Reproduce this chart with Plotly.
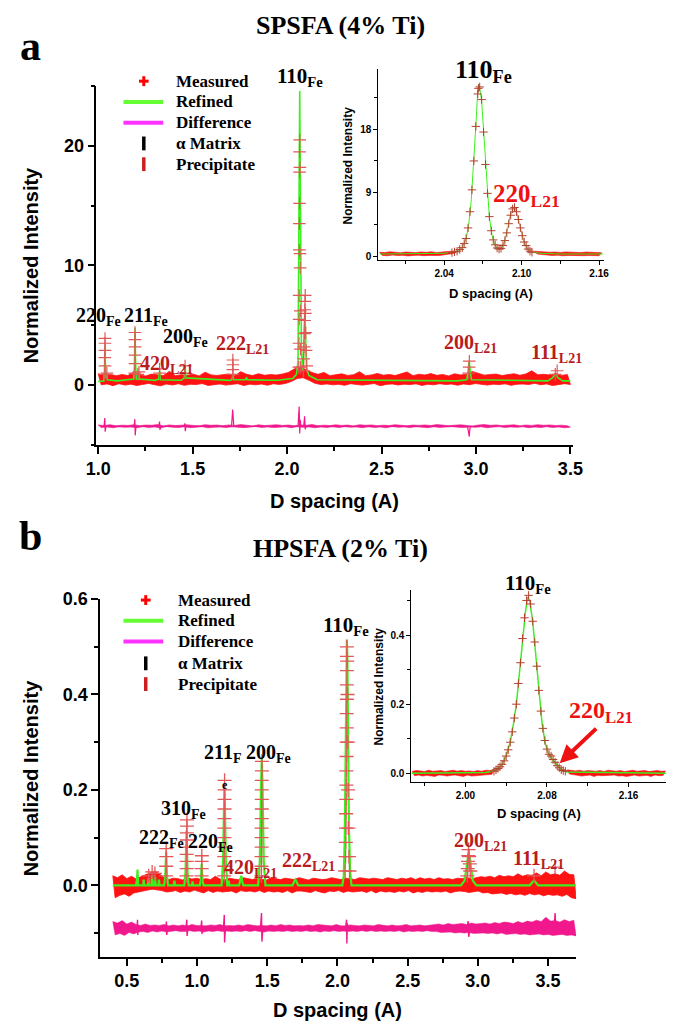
import numpy as np
import plotly.graph_objects as go

W, H = 685, 1034
def fx(p): return p / W
def fy(p): return 1 - p / H

# ---------------- DATA: panel a (SPSFA 4% Ti) ----------------
# measured noise band: alternating upper / lower excursions along the pattern
a_meas_y = [0.95, 0.02, 0.82, 0.10, 0.90, -0.05, 0.78, 0.12, 0.88, 0.00,
            0.80, 0.08, 1.10, -0.04, 0.84, 0.06, 0.76, 0.14, 0.92, 0.03,
            0.86, -0.06, 0.80, 0.09, 1.15, 0.01, 0.79, 0.11, 0.87, -0.02,
            0.83, 0.07, 0.91, 0.04, 0.77, 0.13, 1.08, -0.03, 0.85, 0.05,
            0.81, 0.10, 0.89, 0.00, 0.93, 0.06, 0.78, 0.12, 1.12, -0.04,
            0.90, 0.08, 0.80, 0.03, 0.95, 0.09, 0.82, -0.01, 0.88, 0.11,
            0.84, 0.05, 0.92, 0.14, 1.05, 0.30, 1.35, 0.55, 1.50, 0.62,
            1.30, 0.40, 1.05, 0.15, 0.90, 0.04, 1.06, 0.10, 0.79, 0.02,
            0.88, 0.07, 0.94, -0.02, 0.81, 0.12, 0.87, 0.05, 1.12, 0.00,
            0.78, 0.09, 0.85, 0.13, 0.97, -0.05, 0.83, 0.06, 0.89, 0.10,
            0.80, 0.01, 0.93, 0.08, 1.10, 0.04, 0.79, 0.11, 0.91, -0.03,
            0.84, 0.07, 0.96, 0.02, 0.82, 0.12, 0.88, 0.05, 0.77, 0.09,
            0.94, -0.01, 0.85, 0.10, 0.90, 0.03, 1.14, 0.13, 0.98, 0.06,
            0.83, 0.00, 0.89, 0.08, 0.92, 0.04, 0.80, 0.11, 0.87, -0.02,
            0.95, 0.07, 0.82, 0.09, 0.93, 0.05, 1.20, 0.15, 0.86, 0.03,
            0.90, 0.10, 0.84, -0.04, 0.96, 0.06, 0.81, 0.12, 0.88, 0.05]

a_cross_x = [1.035, 1.036, 1.035, 1.036, 1.036, 1.036, 1.046,
             1.194, 1.195, 1.195, 1.195, 1.195, 1.195, 1.216, 1.210,
             1.325, 1.325, 1.460, 1.460,
             1.713, 1.713, 1.713, 1.713,
             2.062, 2.063, 2.064, 2.064, 2.065, 2.065, 2.066, 2.066, 2.066, 2.067,
             2.068, 2.068, 2.069, 2.070, 2.071, 2.072,
             2.086, 2.088, 2.090, 2.092, 2.093, 2.094, 2.095, 2.096, 2.097, 2.099, 2.101, 2.104,
             2.962, 2.964, 2.965, 3.420, 3.430]
a_cross_y = [0.9, 1.6, 2.3, 2.9, 3.5, 3.9, 1.0,
             1.0, 1.8, 2.5, 3.2, 3.8, 4.4, 1.1, 0.9,
             1.0, 1.35, 1.0, 1.6,
             0.9, 1.3, 1.7, 2.1,
             1.5, 3.5, 5.5, 7.5, 11.3, 13.5, 15.2, 17.8, 19.5, 20.5,
             18.2, 11.0, 9.8, 6.2, 3.0, 1.5,
             1.2, 2.2, 3.2, 4.3, 5.4, 6.3, 7.0, 7.5, 6.0, 4.4, 2.9, 1.6,
             1.0, 1.5, 2.0, 0.9, 1.2]

a_ref_x = [1.000, 1.030, 1.033, 1.036, 1.039, 1.042, 1.045, 1.048, 1.100,
           1.188, 1.192, 1.195, 1.198, 1.202, 1.212, 1.215, 1.218, 1.300,
           1.321, 1.325, 1.329, 1.440, 1.456, 1.460, 1.464, 1.700, 1.709,
           1.713, 1.717, 1.780, 1.783, 1.786, 1.789, 1.950, 2.030, 2.050,
           2.058, 2.062, 2.065, 2.067, 2.069, 2.072, 2.076, 2.082, 2.086,
           2.090, 2.094, 2.098, 2.103, 2.115, 2.160, 2.900, 2.952, 2.958,
           2.964, 2.970, 2.976, 3.380, 3.405, 3.420, 3.435, 3.460, 3.500]
a_ref_y = [0.30, 0.35, 1.20, 3.30, 1.20, 0.60, 1.00, 0.45, 0.35,
           0.50, 1.80, 4.80, 1.80, 0.50, 0.50, 1.00, 0.50, 0.40,
           0.50, 1.20, 0.45, 0.40, 0.60, 1.70, 0.60, 0.40, 0.50,
           0.90, 0.45, 0.45, 0.55, 0.60, 0.45, 0.40, 0.55, 0.90,
           2.00, 10.0, 20.0, 24.6, 20.0, 10.0, 3.00, 1.20, 1.60,
           4.50, 6.20, 4.00, 1.50, 0.80, 0.45, 0.35, 0.45, 1.20,
           2.00, 1.20, 0.45, 0.35, 0.60, 0.90, 0.60, 0.35, 0.35]

a_diff_y = [-3.33, -3.55, -3.38, -3.50, -3.31, -3.57, -3.40, -3.49, -3.35, -3.53,
            -3.37, -3.51, -3.32, -3.56, -3.39, -3.48, -3.34, -3.54, -3.36, -3.50,
            -3.30, -3.58, -3.41, -3.47, -3.33, -3.52, -3.38, -3.55, -3.35, -3.49,
            -3.32, -3.56, -3.37, -3.51, -3.40, -3.48, -3.31, -3.57, -3.36, -3.53,
            -3.34, -3.50, -3.39, -3.55, -3.33, -3.49, -3.37, -3.52, -3.30, -3.56,
            -3.36, -3.51, -3.41, -3.47, -3.32, -3.54, -3.38, -3.50, -3.35, -3.55,
            -3.31, -3.52, -3.37, -3.49, -3.34, -3.56, -3.40, -3.48, -3.33, -3.53,
            -3.36, -3.50, -3.30, -3.57, -3.39, -3.51, -3.35, -3.54, -3.38, -3.49,
            -3.32, -3.55, -3.37, -3.48, -3.34, -3.52, -3.41, -3.50, -3.31, -3.56,
            -3.36, -3.49, -3.33, -3.54, -3.39, -3.51, -3.35, -3.57, -3.38, -3.47,
            -3.31, -3.53, -3.36, -3.50, -3.40, -3.55, -3.34, -3.48, -3.37, -3.52,
            -3.33, -3.56, -3.38, -3.49, -3.30, -3.54, -3.36, -3.51, -3.39, -3.47,
            -3.35, -3.52, -3.32, -3.55, -3.37, -3.50, -3.41, -3.53, -3.34, -3.49,
            -3.30, -3.57, -3.36, -3.51, -3.33, -3.48, -3.38, -3.54, -3.35, -3.50,
            -3.32, -3.53, -3.39, -3.49, -3.34, -3.56, -3.37, -3.51, -3.31, -3.55,
            -3.36, -3.48, -3.33, -3.54, -3.38, -3.50, -3.35, -3.57, -3.40, -3.52]
a_spike_x = [1.031, 1.035, 1.037, 1.041, 1.190, 1.194, 1.196, 1.200,
             1.321, 1.325, 1.327, 1.331, 1.455, 1.459, 1.461, 1.465,
             1.706, 1.712, 1.718, 2.058, 2.064, 2.067, 2.070, 2.073,
             2.088, 2.093, 2.096, 2.100, 2.955, 2.962, 2.965, 2.968, 2.974]
a_spike_y = [-3.45, -2.75, -3.90, -3.45, -3.45, -2.85, -4.20, -3.45,
             -3.45, -3.05, -3.75, -3.45, -3.45, -3.20, -3.85, -3.45,
             -3.45, -2.05, -3.45, -3.45, -1.80, -4.05, -2.90, -3.45,
             -3.45, -2.60, -3.70, -3.45, -3.45, -3.90, -4.30, -3.60, -3.45]

# inset a
ia_ref_x = [1.990, 2.040, 2.050, 2.054, 2.057, 2.059, 2.061, 2.063, 2.065, 2.066,
            2.067, 2.069, 2.071, 2.073, 2.075, 2.077, 2.079, 2.081, 2.083, 2.085,
            2.087, 2.089, 2.091, 2.093, 2.094, 2.096, 2.098, 2.100, 2.102, 2.105,
            2.108, 2.115, 2.130, 2.163]
ia_ref_y = [0.3, 0.4, 0.7, 1.2, 2.5, 4.5, 8.0, 13.5, 20.0, 23.5,
            24.4, 22.0, 16.0, 10.0, 5.5, 3.0, 1.7, 1.1, 1.0, 1.3,
            2.2, 3.8, 5.6, 6.7, 6.9, 6.3, 4.8, 3.2, 1.9, 0.9,
            0.55, 0.4, 0.3, 0.3]
ia_cross_x = [2.046, 2.048, 2.050, 2.052, 2.054, 2.0555, 2.057, 2.0585, 2.060, 2.0615,
              2.063, 2.0645, 2.066, 2.0665, 2.0675, 2.069, 2.0705, 2.072, 2.0735, 2.075,
              2.0765, 2.078, 2.0795, 2.081, 2.0825, 2.084, 2.0855, 2.087, 2.0885, 2.090,
              2.0915, 2.093, 2.0945, 2.096, 2.0975, 2.099, 2.1005, 2.102, 2.1035, 2.105,
              2.1065, 2.108]
ia_cross_y = [0.5, 0.6, 0.7, 0.95, 1.2, 1.8, 2.5, 4.0, 6.3, 9.4,
              13.5, 18.4, 23.0, 23.8, 24.0, 22.2, 17.6, 13.0, 8.9, 5.6,
              3.6, 2.3, 1.6, 1.15, 1.0, 1.1, 1.5, 2.2, 3.3, 4.6,
              5.8, 6.7, 6.9, 6.3, 5.2, 4.0, 2.9, 2.0, 1.5, 1.0,
              0.7, 0.55]
ia_base_left_y = [0.55, 0.10, 0.50, 0.05, 0.62, 0.15, 0.55, 0.08, 0.48, 0.12,
                  0.58, 0.02, 0.52, 0.10, 0.50, 0.14, 0.60, 0.06, 0.54, 0.10,
                  0.62, 0.12, 0.50, 0.08, 0.58, 0.18, 0.62, 0.25, 0.70, 0.40]
ia_base_right_y = [0.70, 0.30, 0.62, 0.20, 0.58, 0.12, 0.55, 0.08, 0.58, 0.14,
                   0.52, 0.05, 0.60, 0.10, 0.54, 0.04, 0.56, 0.10, 0.50, 0.06,
                   0.58, 0.08, 0.52, 0.02, 0.54, 0.06, 0.48]

# ---------------- DATA: panel b (HPSFA 2% Ti) ----------------
b_meas_y = [0.020, -0.026, 0.016, -0.021, 0.022, -0.018, 0.014, -0.023, 0.019, -0.016,
            0.013, -0.015, 0.018, -0.012, 0.022, -0.010, 0.026, -0.008, 0.030, -0.009,
            0.024, -0.011, 0.016, -0.014, 0.012, -0.013, 0.015, -0.011, 0.014, -0.015,
            0.011, -0.012, 0.016, -0.014, 0.013, -0.010, 0.015, -0.013, 0.012, -0.016,
            0.014, -0.011, 0.012, -0.015, 0.019, -0.012, 0.013, -0.014, 0.011, -0.013,
            0.015, -0.012, 0.013, -0.016, 0.012, -0.011, 0.016, -0.013, 0.014, -0.012,
            0.012, -0.014, 0.015, -0.011, 0.013, -0.015, 0.011, -0.012, 0.016, -0.014,
            0.014, -0.013, 0.012, -0.015, 0.015, -0.011, 0.013, -0.016, 0.012, -0.012,
            0.016, -0.012, 0.014, -0.013, 0.011, -0.015, 0.015, -0.011, 0.013, -0.014,
            0.012, -0.016, 0.013, -0.012, 0.016, -0.013, 0.014, -0.011, 0.012, -0.015,
            0.015, -0.012, 0.013, -0.014, 0.012, -0.013, 0.016, -0.012, 0.014, -0.015,
            0.013, -0.011, 0.015, -0.016, 0.014, -0.012, 0.012, -0.014, 0.016, -0.013,
            0.014, -0.015, 0.012, -0.012, 0.015, -0.014, 0.013, -0.011, 0.016, -0.016,
            0.012, -0.013, 0.016, -0.015, 0.013, -0.012, 0.015, -0.014, 0.012, -0.013,
            0.016, -0.014, 0.013, -0.012, 0.014, -0.016, 0.012, -0.013, 0.015, -0.012,
            0.014, -0.013, 0.017, -0.015, 0.013, -0.014, 0.016, -0.012, 0.018, -0.016,
            0.017, -0.015, 0.019, -0.018, 0.016, -0.017, 0.021, -0.016, 0.018, -0.019,
            0.020, -0.017, 0.018, -0.020, 0.024, -0.018, 0.019, -0.021, 0.022, -0.017,
            0.021, -0.020, 0.026, -0.018, 0.020, -0.022, 0.028, -0.019, 0.022, -0.021,
            0.024, -0.020, 0.021, -0.023, 0.030, -0.019, 0.023, -0.026, 0.022, -0.028]

b_cross_x = [0.779, 0.780, 0.781, 0.780,
             0.925, 0.926, 0.926, 0.926, 0.927, 0.927, 0.927, 0.928, 0.928,
             1.032, 1.033, 1.033, 1.034,
             1.193, 1.194, 1.194, 1.195, 1.195, 1.195, 1.195, 1.196, 1.196, 1.196, 1.196,
             1.458, 1.459, 1.459, 1.460, 1.460, 1.460, 1.461, 1.461, 1.461, 1.461, 1.461, 1.462, 1.462,
             2.055, 2.058, 2.060, 2.061, 2.062, 2.063, 2.064, 2.064, 2.065, 2.065, 2.066, 2.066,
             2.067, 2.067, 2.067, 2.067, 2.067, 2.070, 2.072, 2.074, 2.076, 2.078, 2.082, 2.086,
             2.925, 2.928, 2.930, 2.932, 2.934, 2.938, 2.942, 2.946,
             0.680, 0.700, 0.655, 3.400, 3.550]
b_cross_y = [0.020, 0.040, 0.060, 0.077,
             0.020, 0.035, 0.050, 0.065, 0.080, 0.095, 0.110, 0.124, 0.137,
             0.020, 0.035, 0.050, 0.062,
             0.020, 0.040, 0.060, 0.080, 0.100, 0.120, 0.140, 0.160, 0.180, 0.200, 0.220,
             0.020, 0.040, 0.060, 0.080, 0.100, 0.120, 0.140, 0.160, 0.180, 0.200, 0.220, 0.240, 0.260,
             0.030, 0.060, 0.090, 0.120, 0.150, 0.180, 0.210, 0.240, 0.270, 0.300, 0.330, 0.360,
             0.390, 0.420, 0.450, 0.480, 0.500, 0.470, 0.400, 0.300, 0.200, 0.120, 0.060, 0.030,
             0.020, 0.035, 0.050, 0.062, 0.075, 0.060, 0.045, 0.030,
             0.028, 0.025, 0.020, 0.020, 0.038]

b_ref_x = [0.400, 0.565, 0.572, 0.576, 0.580, 0.600, 0.617, 0.620, 0.623, 0.650,
           0.654, 0.658, 0.675, 0.679, 0.683, 0.697, 0.701, 0.705, 0.725, 0.729,
           0.733, 0.766, 0.774, 0.780, 0.786, 0.794, 0.835, 0.839, 0.843, 0.910,
           0.918, 0.925, 0.932, 0.940, 0.964, 0.968, 0.972, 1.020, 1.028, 1.033,
           1.038, 1.046, 1.175, 1.185, 1.191, 1.195, 1.199, 1.205, 1.215, 1.222,
           1.226, 1.230, 1.300, 1.308, 1.315, 1.322, 1.330, 1.435, 1.447, 1.455,
           1.461, 1.467, 1.475, 1.487, 1.680, 1.692, 1.700, 1.708, 1.720, 2.035,
           2.045, 2.052, 2.058, 2.063, 2.067, 2.071, 2.076, 2.082, 2.090, 2.100,
           2.880, 2.905, 2.918, 2.928, 2.934, 2.941, 2.951, 2.964, 2.990, 3.370,
           3.390, 3.400, 3.410, 3.430, 3.700]
b_ref_y = [0.000, 0.000, 0.012, 0.033, 0.000, 0.000, 0.000, 0.012, 0.000, 0.000,
           0.015, 0.000, 0.000, 0.020, 0.000, 0.000, 0.018, 0.000, 0.000, 0.012,
           0.000, 0.000, 0.020, 0.070, 0.020, 0.000, 0.000, 0.010, 0.000, 0.000,
           0.030, 0.115, 0.030, 0.000, 0.000, 0.008, 0.000, 0.000, 0.012, 0.045,
           0.012, 0.000, 0.000, 0.050, 0.160, 0.212, 0.160, 0.050, 0.000, 0.000,
           0.010, 0.000, 0.000, 0.008, 0.020, 0.008, 0.000, 0.000, 0.050, 0.200,
           0.265, 0.200, 0.050, 0.000, 0.000, 0.008, 0.012, 0.008, 0.000, 0.000,
           0.020, 0.100, 0.300, 0.470, 0.515, 0.470, 0.300, 0.120, 0.030, 0.000,
           0.000, 0.010, 0.035, 0.060, 0.068, 0.060, 0.035, 0.010, 0.000, 0.000,
           0.007, 0.010, 0.007, 0.000, 0.000]

b_diff_y = [-0.076, -0.104, -0.079, -0.101, -0.074, -0.105, -0.081, -0.099, -0.077, -0.102,
            -0.082, -0.098, -0.084, -0.097, -0.081, -0.099, -0.084, -0.096, -0.083, -0.098,
            -0.084, -0.096, -0.082, -0.098, -0.085, -0.097, -0.083, -0.095, -0.085, -0.097,
            -0.083, -0.097, -0.085, -0.095, -0.082, -0.097, -0.084, -0.096, -0.085, -0.098,
            -0.085, -0.096, -0.083, -0.097, -0.084, -0.095, -0.082, -0.097, -0.085, -0.096,
            -0.084, -0.097, -0.085, -0.096, -0.083, -0.097, -0.085, -0.095, -0.082, -0.097,
            -0.083, -0.095, -0.085, -0.097, -0.084, -0.098, -0.085, -0.096, -0.083, -0.097,
            -0.085, -0.096, -0.082, -0.097, -0.084, -0.095, -0.083, -0.097, -0.085, -0.096,
            -0.084, -0.097, -0.085, -0.095, -0.083, -0.097, -0.085, -0.096, -0.082, -0.098,
            -0.083, -0.096, -0.084, -0.097, -0.085, -0.095, -0.082, -0.097, -0.085, -0.096,
            -0.085, -0.097, -0.083, -0.096, -0.084, -0.097, -0.085, -0.095, -0.083, -0.097,
            -0.084, -0.095, -0.085, -0.097, -0.082, -0.096, -0.084, -0.097, -0.085, -0.096,
            -0.083, -0.097, -0.085, -0.095, -0.084, -0.098, -0.082, -0.096, -0.085, -0.097,
            -0.084, -0.096, -0.083, -0.097, -0.085, -0.095, -0.084, -0.097, -0.082, -0.097,
            -0.081, -0.099, -0.083, -0.099, -0.080, -0.098, -0.082, -0.100, -0.081, -0.099,
            -0.080, -0.100, -0.082, -0.099, -0.079, -0.101, -0.081, -0.100, -0.080, -0.100,
            -0.079, -0.101, -0.081, -0.100, -0.078, -0.102, -0.080, -0.100, -0.077, -0.103,
            -0.078, -0.102, -0.080, -0.101, -0.076, -0.103, -0.079, -0.102, -0.075, -0.104,
            -0.077, -0.103, -0.073, -0.102, -0.076, -0.104, -0.067, -0.103, -0.075, -0.105,
            -0.074, -0.104, -0.077, -0.103, -0.072, -0.105, -0.076, -0.104, -0.073, -0.106]
b_spike_x = [0.572, 0.576, 0.578, 0.582, 0.776, 0.782, 0.784, 0.790,
             0.921, 0.927, 0.929, 0.935, 1.027, 1.033, 1.035, 1.041,
             1.188, 1.194, 1.196, 1.202, 1.452, 1.459, 1.462, 1.469,
             2.058, 2.065, 2.067, 2.070, 2.076, 2.922, 2.931, 2.935, 2.945,
             3.544, 3.550, 3.556]
b_spike_y = [-0.090, -0.072, -0.104, -0.090, -0.090, -0.076, -0.104, -0.090,
             -0.090, -0.072, -0.106, -0.090, -0.090, -0.074, -0.102, -0.090,
             -0.090, -0.062, -0.120, -0.090, -0.090, -0.058, -0.118, -0.090,
             -0.090, -0.072, -0.122, -0.080, -0.090, -0.090, -0.075, -0.108, -0.090,
             -0.090, -0.058, -0.090]

# inset b
ib_ref_x = [1.947, 2.020, 2.030, 2.036, 2.040, 2.044, 2.047, 2.050, 2.053, 2.056,
            2.059, 2.061, 2.063, 2.066, 2.069, 2.072, 2.075, 2.078, 2.081, 2.084,
            2.087, 2.090, 2.094, 2.100, 2.197]
ib_ref_y = [0.000, 0.002, 0.008, 0.025, 0.050, 0.090, 0.140, 0.200, 0.290, 0.390,
            0.470, 0.510, 0.500, 0.440, 0.350, 0.240, 0.150, 0.090, 0.060, 0.045,
            0.035, 0.022, 0.010, 0.004, 0.000]
ib_cross_x = [2.028, 2.030, 2.032, 2.034, 2.036, 2.038, 2.040, 2.042, 2.044, 2.046,
              2.048, 2.050, 2.052, 2.054, 2.056, 2.058, 2.060, 2.062, 2.064, 2.066,
              2.068, 2.070, 2.072, 2.074, 2.076, 2.078, 2.080, 2.082, 2.084, 2.086,
              2.088, 2.090, 2.092, 2.094, 2.096, 2.098]
ib_cross_y = [0.006, 0.010, 0.014, 0.019, 0.026, 0.036, 0.050, 0.068, 0.090, 0.120,
              0.160, 0.200, 0.260, 0.320, 0.390, 0.450, 0.500, 0.515, 0.490, 0.440,
              0.380, 0.310, 0.240, 0.180, 0.130, 0.095, 0.070, 0.055, 0.050, 0.040,
              0.032, 0.022, 0.016, 0.010, 0.008, 0.006]
ib_base_left_y = [0.006, -0.007, 0.008, -0.005, 0.007, -0.008, 0.005, -0.006, 0.009, -0.007,
                  0.006, -0.009, 0.007, -0.005, 0.008, -0.006, 0.005, -0.008, 0.007, -0.006,
                  0.009, -0.005, 0.006, -0.007, 0.008, -0.009, 0.006, -0.005, 0.007, -0.008,
                  0.005, -0.006, 0.008, -0.007, 0.006, -0.005, 0.009, -0.004, 0.008, -0.003,
                  0.010]
ib_base_right_y = [0.010, -0.002, 0.008, -0.005, 0.007, -0.006, 0.009, -0.008, 0.006, -0.007,
                   0.008, -0.005, 0.007, -0.009, 0.006, -0.006, 0.008, -0.007, 0.005, -0.008,
                   0.009, -0.006, 0.007, -0.005, 0.006, -0.008, 0.008, -0.007, 0.005, -0.009,
                   0.007, -0.006, 0.009, -0.005, 0.006, -0.008, 0.007, -0.007, 0.008, -0.006,
                   0.005, -0.009, 0.007, -0.005, 0.008, -0.007, 0.006, -0.006, 0.007]

# ---------------- styles ----------------
RED = '#ff1212'
CROSS = '#e25858'
CROSS_IN = '#b4402e'
GREEN = '#3cf01e'
DIFF = '#f0188c'
LEG_GREEN = '#66ff33'
LEG_MAG = '#ff33ff'
DARKRED = '#b81c1c'
BRIGHTRED = '#ee1111'
SERIF = 'Liberation Serif'
SANS = 'Liberation Sans'


def band(xs, ys):
    """closed polygon from alternating upper/lower noise samples"""
    xs = np.asarray(xs)
    ys = np.asarray(ys)
    up_x, up_y = xs[0::2], ys[0::2]
    lo_x, lo_y = xs[1::2], ys[1::2]
    return (np.concatenate([up_x, lo_x[::-1], up_x[:1]]),
            np.concatenate([up_y, lo_y[::-1], up_y[:1]]))


fig = go.Figure()

def add_band(xs, ys, color, xa, ya, name, lw=0.8):
    px_, py_ = band(xs, ys)
    fig.add_trace(go.Scatter(x=px_, y=py_, mode='lines', fill='toself', fillcolor=color,
                             line=dict(color=color, width=lw), name=name,
                             xaxis=xa, yaxis=ya, showlegend=False, hoverinfo='skip'))

# ---- panel a main ----
ax_grid = np.linspace(1.0, 3.5, len(a_meas_y))
add_band(ax_grid, a_meas_y, RED, 'x', 'y', 'Measured')
fig.add_trace(go.Scatter(x=a_ref_x, y=a_ref_y, mode='lines', name='Refined',
                         line=dict(color=GREEN, width=1.6), xaxis='x', yaxis='y', showlegend=False))
fig.add_trace(go.Scatter(x=a_cross_x, y=a_cross_y, mode='markers', name='Measured',
                         marker=dict(symbol='cross-thin', size=9, line=dict(color=CROSS, width=1.2)),
                         xaxis='x', yaxis='y', showlegend=False))
add_band(ax_grid, a_diff_y, DIFF, 'x', 'y', 'Difference', lw=0.6)
fig.add_trace(go.Scatter(x=a_spike_x, y=a_spike_y, mode='lines', name='Difference',
                         line=dict(color=DIFF, width=1.2), xaxis='x', yaxis='y', showlegend=False))

# ---- panel a inset ----
add_band(np.linspace(1.990, 2.048, len(ia_base_left_y)), ia_base_left_y, RED, 'x2', 'y2', 'Measured', 0.6)
add_band(np.linspace(2.110, 2.162, len(ia_base_right_y)), ia_base_right_y, RED, 'x2', 'y2', 'Measured', 0.6)
fig.add_trace(go.Scatter(x=ia_ref_x, y=ia_ref_y, mode='lines', line=dict(color=GREEN, width=1),
                         xaxis='x2', yaxis='y2', showlegend=False, name='Refined'))
fig.add_trace(go.Scatter(x=ia_cross_x, y=ia_cross_y, mode='markers', name='Measured',
                         marker=dict(symbol='cross-thin', size=6, line=dict(color=CROSS_IN, width=1)),
                         xaxis='x2', yaxis='y2', showlegend=False))

# ---- panel b main ----
bx_grid = np.linspace(0.40, 3.70, len(b_meas_y))
add_band(bx_grid, b_meas_y, RED, 'x3', 'y3', 'Measured')
fig.add_trace(go.Scatter(x=b_ref_x, y=b_ref_y, mode='lines', name='Refined',
                         line=dict(color=GREEN, width=2.2), xaxis='x3', yaxis='y3', showlegend=False))
fig.add_trace(go.Scatter(x=b_cross_x, y=b_cross_y, mode='markers', name='Measured',
                         marker=dict(symbol='cross-thin', size=10, line=dict(color=CROSS, width=1.3)),
                         xaxis='x3', yaxis='y3', showlegend=False))
add_band(bx_grid, b_diff_y, DIFF, 'x3', 'y3', 'Difference', lw=0.5)
fig.add_trace(go.Scatter(x=b_spike_x, y=b_spike_y, mode='lines', name='Difference',
                         line=dict(color=DIFF, width=1.4), xaxis='x3', yaxis='y3', showlegend=False))

# ---- panel b inset ----
add_band(np.linspace(1.948, 2.028, len(ib_base_left_y)), ib_base_left_y, RED, 'x4', 'y4', 'Measured', 0.6)
add_band(np.linspace(2.100, 2.196, len(ib_base_right_y)), ib_base_right_y, RED, 'x4', 'y4', 'Measured', 0.6)
fig.add_trace(go.Scatter(x=ib_ref_x, y=ib_ref_y, mode='lines', line=dict(color=GREEN, width=1.5),
                         xaxis='x4', yaxis='y4', showlegend=False, name='Refined'))
fig.add_trace(go.Scatter(x=ib_cross_x, y=ib_cross_y, mode='markers', name='Measured',
                         marker=dict(symbol='cross-thin', size=6, line=dict(color=CROSS_IN, width=1)),
                         xaxis='x4', yaxis='y4', showlegend=False))

# ---------------- axes ----------------
def ax(domain, rng, anchor, dtick, tick0, mdtick, fsize, fmt=None, tlen=7, mlen=4, lw=1.5):
    d = dict(domain=domain, range=rng, anchor=anchor, showline=True, linecolor='black',
             linewidth=lw, ticks='outside', ticklen=tlen, tickwidth=lw, tickcolor='black',
             showgrid=False, zeroline=False, dtick=dtick, tick0=tick0,
             tickfont=dict(family=SANS, size=fsize, color='black', weight='bold'),
             minor=dict(ticks='outside', ticklen=mlen, tickwidth=lw, tickcolor='black',
                        dtick=mdtick, tick0=tick0, showgrid=False))
    if fmt:
        d['tickformat'] = fmt
    return d

fig.update_layout(
    width=W, height=H, autosize=False,
    margin=dict(l=0, r=0, t=0, b=0),
    paper_bgcolor='white', plot_bgcolor='rgba(0,0,0,0)',
    showlegend=False,
    xaxis=ax([fx(88), fx(580)], [0.99, 3.515], 'y', 0.5, 1.0, 0.25, 18, '.1f'),
    yaxis=ax([fy(440), fy(77)], [-5, 25], 'x', 10, 0, 5, 18),
    xaxis2=ax([fx(379), fx(612)], [1.989, 2.164], 'y2', 0.06, 2.04, 0.03, 10, '.2f', 4, 3, 1),
    yaxis2=ax([fy(253), fy(60)], [-0.56, 26.5], 'x2', 9, 0, 4.5, 10, None, 4, 3, 1),
    xaxis3=ax([fx(92), fx(583)], [0.31, 3.70], 'y3', 0.5, 0.5, 0.25, 18, '.1f'),
    yaxis3=ax([fy(958), fy(596)], [-0.15, 0.60], 'x3', 0.2, 0.0, 0.1, 18, '.1f'),
    xaxis4=ax([fx(413), fx(676)], [1.947, 2.197], 'y4', 0.08, 2.0, 0.04, 10, '.2f', 4, 3, 1),
    yaxis4=ax([fy(781), fy(587)], [-0.025, 0.53], 'x4', 0.2, 0.0, 0.1, 10, '.1f', 4, 3, 1),
)

# ---------------- annotations ----------------
ann = []
def text(t, x, y, size, family=SERIF, color='black', angle=0, xanchor='center'):
    ann.append(dict(text=t, x=fx(x), y=fy(y), xref='paper', yref='paper', showarrow=False,
                    xanchor=xanchor, yanchor='middle', textangle=angle,
                    font=dict(family=family, size=size, color=color, weight='bold')))

# titles and panel letters
text('a', 20, 36, 42)
text('SPSFA (4% Ti)', 340, 16, 26)
text('b', 20, 532, 42)
text('HPSFA (2% Ti)', 340, 545, 26)

# axis titles
text('D spacing (A)', 334, 497, 20, SANS)
text('Normalized Intensity', 21, 258, 20, SANS, angle=-90)
text('D spacing (A)', 337, 1012, 20, SANS)
text('Normalized Intensity', 21, 777, 20, SANS, angle=-90)
text('D spacing (A)', 495, 287, 13, SANS)
text('Normalized Intensity', 348, 157, 12, SANS, angle=-90)
text('D spacing (A)', 545, 813, 13, SANS)
text('Normalized Intensity', 380, 684, 12, SANS, angle=-90)

# peak labels panel a
text('110<sub>Fe</sub>', 298, 68, 21)
text('220<sub>Fe</sub>', 90, 310, 20)
text('211<sub>Fe</sub>', 139, 310, 20)
text('200<sub>Fe</sub>', 180, 331, 20)
text('420<sub>L21</sub>', 160, 359, 20, color=DARKRED)
text('222<sub>L21</sub>', 239, 338, 20, color=DARKRED)
text('200<sub>L21</sub>', 474, 337, 20, color=DARKRED)
text('111<sub>L21</sub>', 563, 348, 20, color=DARKRED)
text('110<sub>Fe</sub>', 487, 62, 26)
text('220<sub>L21</sub>', 532, 188, 25, color=BRIGHTRED)

# peak labels panel b
text('110<sub>Fe</sub>', 346, 623, 21)
text('310<sub>Fe</sub>', 178, 809, 20)
text('222<sub>Fe</sub>', 155, 838, 20)
text('220<sub>Fe</sub>', 206, 842, 20)
text('211<sub>F</sub>', 218, 752, 20)
text('e', 221, 784, 12)
text('200<sub>Fe</sub>', 266, 752, 20)
text('420<sub>L21</sub>', 247, 869, 20, color=DARKRED)
text('222<sub>L21</sub>', 307, 862, 20, color=DARKRED)
text('200<sub>L21</sub>', 484, 841, 20, color=DARKRED)
text('111<sub>L21</sub>', 544, 859, 20, color=DARKRED)
text('110<sub>Fe</sub>', 533, 581, 21)
text('220<sub>L21</sub>', 609, 710, 24, color=BRIGHTRED)

# arrow in inset b
ann.append(dict(x=fx(566), y=fy(762), xref='paper', yref='paper', ax=38, ay=-36,
                text='', showarrow=True, arrowhead=2, arrowsize=0.9, arrowwidth=4,
                arrowcolor=BRIGHTRED))

# legends (drawn)
legend_names = ['Measured', 'Refined', 'Difference', 'α Matrix', 'Precipitate']
shapes = []
def line(x0, y0, x1, y1, color, w):
    shapes.append(dict(type='line', xref='paper', yref='paper', x0=fx(x0), y0=fy(y0),
                       x1=fx(x1), y1=fy(y1), line=dict(color=color, width=w)))

for rows, tx, cx in [([72, 93, 114, 135, 156], 168, 137), ([597, 618, 639, 661, 682], 170, 139)]:
    for name, ry in zip(legend_names, rows):
        text(name, tx, ry, 17, xanchor='left')
    line(cx - 5, rows[0], cx + 5, rows[0], 'red', 3)
    line(cx, rows[0] - 5, cx, rows[0] + 5, 'red', 3)
    line(116, rows[1], 157, rows[1], LEG_GREEN, 4)
    line(116, rows[2], 157, rows[2], LEG_MAG, 4)
    line(cx, rows[3] - 7, cx, rows[3] + 7, 'black', 3.5)
    line(cx, rows[4] - 7, cx, rows[4] + 7, '#cc2020', 3.5)

fig.update_layout(annotations=ann, shapes=shapes)
fig.write_html('out.html', config={'displayModeBar': False},
               post_script="document.body.style.margin='0px';")
